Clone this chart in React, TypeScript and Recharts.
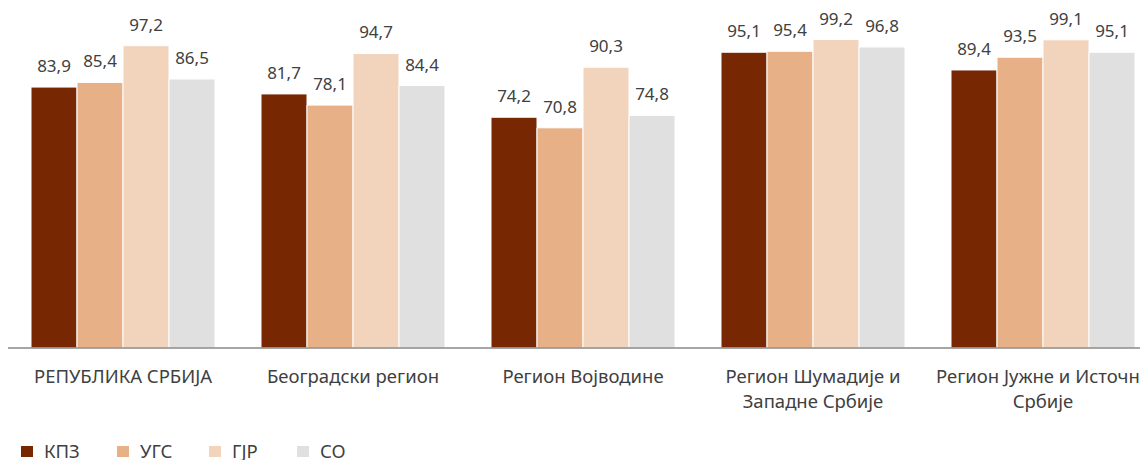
import { BarChart, Bar, XAxis, YAxis, LabelList } from "recharts";

const categories = [
  "РЕПУБЛИКА СРБИЈА",
  "Београдски регион",
  "Регион Војводине",
  "Регион Шумадије и Западне Србије",
  "Регион Јужне и Источне Србије",
];

// how each category label breaks into lines
const categoryLines = [
  ["РЕПУБЛИКА СРБИЈА"],
  ["Београдски регион"],
  ["Регион Војводине"],
  ["Регион Шумадије и", "Западне Србије"],
  ["Регион Јужне и Источне", "Србије"],
];

const kpz = [83.9, 81.7, 74.2, 95.1, 89.4];
const ugs = [85.4, 78.1, 70.8, 95.4, 93.5];
const gjr = [97.2, 94.7, 90.3, 99.2, 99.1];
const so = [86.5, 84.4, 74.8, 96.8, 95.1];

const series = [
  { key: "kpz", name: "КПЗ", color: "#772803" },
  { key: "ugs", name: "УГС", color: "#E8B086" },
  { key: "gjr", name: "ГЈР", color: "#F2D4BD" },
  { key: "so", name: "СО", color: "#E0E0E0" },
];

// legend item left edges
const legendX = [13, 109, 201, 289];

const data = categories.map((name, i) => ({
  name,
  kpz: kpz[i],
  ugs: ugs[i],
  gjr: gjr[i],
  so: so[i],
}));

const FONT = '"Noto Sans", sans-serif';
const TEXT = "#404040";

const fmt = (v: any) => Number(v).toFixed(1).replace(".", ",");

function CategoryTick({ x, y, index }: any) {
  const lines = categoryLines[index] ?? [];
  return (
    <text
      x={x}
      y={y + 27}
      textAnchor="middle"
      fill={TEXT}
      fontSize={18.5}
      fontFamily={FONT}
    >
      {lines.map((l, i) => (
        <tspan key={i} x={x} dy={i === 0 ? 0 : 25}>
          {l}
        </tspan>
      ))}
    </text>
  );
}

export default function App() {
  return (
    <div
      style={{
        position: "relative",
        width: 1140,
        height: 452,
        overflow: "hidden",
        fontFamily: FONT,
      }}
    >
      <style>{"html, body { overflow: hidden; }"}</style>
      <BarChart
        width={1150}
        height={420}
        data={data}
        margin={{ top: 29, right: 0, left: 0, bottom: 0 }}
        barCategoryGap={23}
        barGap={0}
      >
        <XAxis
          dataKey="name"
          axisLine={{ stroke: "#898989", strokeWidth: 1.5 }}
          tickLine={false}
          height={80}
          interval={0}
          tick={<CategoryTick />}
        />
        <YAxis hide domain={[0, 100]} />
        {series.map((s) => (
          <Bar
            key={s.key}
            dataKey={s.key}
            name={s.name}
            fill={s.color}
            stroke="#ffffff"
            strokeWidth={1}
            isAnimationActive={false}
          >
            <LabelList
              dataKey={s.key}
              position="top"
              offset={15}
              formatter={fmt}
              fill={TEXT}
              fontSize={17}
              fontFamily={FONT}
            />
          </Bar>
        ))}
      </BarChart>
      {series.map((s, i) => (
        <div
          key={s.key}
          style={{
            position: "absolute",
            left: legendX[i],
            top: 434,
            height: 18,
            display: "flex",
            alignItems: "center",
            fontSize: 18.5,
            lineHeight: "18px",
            color: TEXT,
            whiteSpace: "nowrap",
          }}
        >
          <span
            style={{
              width: 12,
              height: 11,
              background: s.color,
              marginRight: 11,
              display: "inline-block",
            }}
          />
          <span>{s.name}</span>
        </div>
      ))}
    </div>
  );
}
